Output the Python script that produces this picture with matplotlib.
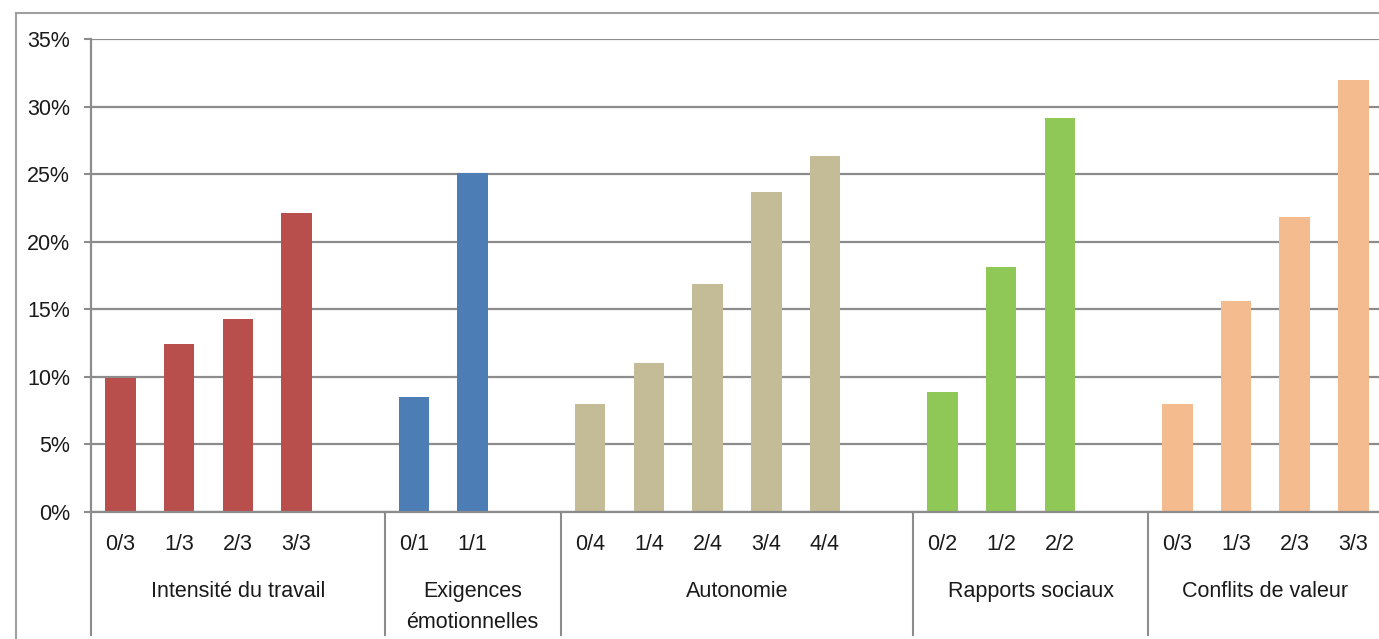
import matplotlib
matplotlib.use("Agg")
import matplotlib.pyplot as plt
import matplotlib.transforms as mtransforms
from matplotlib.lines import Line2D

plt.rcParams['font.family'] = ['Liberation Sans', 'DejaVu Sans']

# Data: share of respondents by score on each psychosocial risk dimension (%)
groups = ["Intensité du travail", "Exigences\némotionnelles", "Autonomie",
          "Rapports sociaux", "Conflits de valeur"]
intensite_labels = ["0/3", "1/3", "2/3", "3/3"]
intensite_values = [9.9, 12.4, 14.3, 22.1]
exigences_labels = ["0/1", "1/1"]
exigences_values = [8.5, 25.05]
autonomie_labels = ["0/4", "1/4", "2/4", "3/4", "4/4"]
autonomie_values = [8.0, 11.0, 16.9, 23.7, 26.35]
rapports_labels = ["0/2", "1/2", "2/2"]
rapports_values = [8.85, 18.1, 29.15]
conflits_labels = ["0/3", "1/3", "2/3", "3/3"]
conflits_values = [8.0, 15.6, 21.8, 32.0]

yticks = [0, 5, 10, 15, 20, 25, 30, 35]
ytick_labels = [f"{v}%" for v in yticks]

colors = ["#B94F4C", "#4D7DB5", "#C4BC96", "#8FC856", "#F4BB8F"]

series = [
    (intensite_labels, intensite_values),
    (exigences_labels, exigences_values),
    (autonomie_labels, autonomie_values),
    (rapports_labels, rapports_values),
    (conflits_labels, conflits_values),
]
# each group is followed by one blank category slot, except the last
gaps = [1, 1, 1, 1, 0]

W, H = 1379, 639
fig = plt.figure(figsize=(W / 100, H / 100), dpi=100)
slot_px = 58.72
n_slots = sum(len(l) for l, _ in series) + sum(gaps)
ax = fig.add_axes([91 / W, (H - 512) / H, n_slots * slot_px / W, 473 / H])

grid_color = "#8c8c8c"
text_color = "#1a1a1a"
fs = 15.5

pos = 0
bounds = [-0.5]
centers = []
trans = mtransforms.blended_transform_factory(ax.transData, ax.transAxes)
for (labels, values), color, gap in zip(series, colors, gaps):
    xs = list(range(pos, pos + len(labels)))
    ax.bar(xs, values, width=0.52, color=color, zorder=3)
    for x, lab in zip(xs, labels):
        ax.text(x, -33 / 473, lab, transform=trans, ha="center", va="center",
                fontsize=fs, color=text_color)
    start = pos - 0.5
    pos += len(labels) + gap
    end = pos - 0.5
    bounds.append(end)
    centers.append((start + end) / 2)

for c, g in zip(centers, groups):
    ax.text(c, -69 / 473, g, transform=trans, ha="center", va="top",
            fontsize=fs, color=text_color, linespacing=1.6)

# vertical separators between groups below the axis
for b in bounds:
    ax.add_line(Line2D([b, b], [0, -123 / 473], transform=trans, color=grid_color,
                       lw=1.5, clip_on=False, zorder=4))

ax.set_xlim(-0.5, n_slots - 0.5)
ax.set_ylim(0, 35)
ax.set_yticks(yticks)
ax.set_yticklabels(ytick_labels, fontsize=fs, color=text_color)
ax.set_xticks([])
ax.yaxis.grid(True, color=grid_color, lw=1.6, zorder=1)
ax.set_axisbelow(True)
ax.tick_params(axis="y", length=5, width=1.5, color=grid_color, pad=10)
for side in ["top", "right"]:
    ax.spines[side].set_visible(False)
for side in ["left", "bottom"]:
    ax.spines[side].set_color(grid_color)
    ax.spines[side].set_linewidth(1.6)
    ax.spines[side].set_zorder(4)

# chart area border
border = "#a0a0a0"
fig.add_artist(Line2D([16 / W, 16 / W], [0, (H - 13) / H], transform=fig.transFigure,
                      color=border, lw=1.5))
fig.add_artist(Line2D([16 / W, 1], [(H - 13) / H, (H - 13) / H], transform=fig.transFigure,
                      color=border, lw=1.5))

fig.savefig("out.png", dpi=100, facecolor="white")
